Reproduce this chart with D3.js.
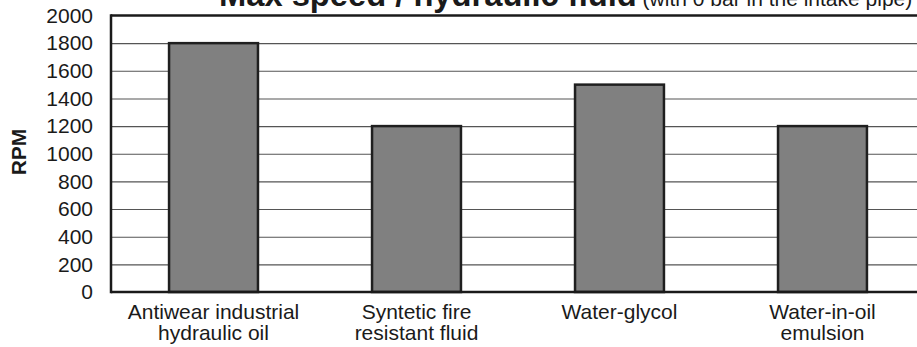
<!DOCTYPE html>
<html>
<head>
<meta charset="utf-8">
<script src="https://cdn.jsdelivr.net/npm/d3@7"></script>
<style>
  html, body { margin: 0; padding: 0; background: #fff; }
  svg { display: block; }
  text { font-family: "Liberation Sans", Arial, Helvetica, sans-serif; fill: #1a1a1a; }
</style>
</head>
<body>
<svg id="chart" width="917" height="347"></svg>
<script>
// ---- data ----
const categories = ["Antiwear industrial hydraulic oil", "Syntetic fire resistant fluid", "Water-glycol", "Water-in-oil emulsion"];
const categoryLines = [["Antiwear industrial", "hydraulic oil"], ["Syntetic fire", "resistant fluid"], ["Water-glycol"], ["Water-in-oil", "emulsion"]];
const rpmValues = [1800, 1200, 1500, 1200];
const yTicks = [0, 200, 400, 600, 800, 1000, 1200, 1400, 1600, 1800, 2000];
const titleMain = "Max speed / hydraulic fluid";
const titleSub = " (with 0 bar in the intake pipe)";
const yLabel = "RPM";

// ---- layout ----
const svg = d3.select("#chart");
const plotLeft = 111, plotRight = 925, plotTop = 15.5, plotBottom = 292;

const x = d3.scaleBand().domain(categories).range([plotLeft, plotRight])
  .paddingInner(0.562).paddingOuter(0.286);
const y = d3.scaleLinear().domain([0, 2000]).range([plotBottom, plotTop]);

// gridlines
const grid = svg.append("g").attr("transform", `translate(${plotLeft},0)`)
  .call(d3.axisLeft(y).tickValues(yTicks.filter(v => v > 0 && v < 2000)).tickSize(-(917 - plotLeft)).tickFormat(""));
grid.select(".domain").remove();
grid.selectAll(".tick line").attr("stroke", "#555").attr("stroke-width", 1.1);

// bars
svg.append("g").selectAll("rect").data(rpmValues).join("rect")
  .attr("x", (d, i) => x(categories[i]))
  .attr("y", d => y(d))
  .attr("width", x.bandwidth())
  .attr("height", d => y(0) - y(d))
  .attr("fill", "#808080")
  .attr("stroke", "#1f1f1f")
  .attr("stroke-width", 2.5);

// frame lines (left, bottom, top)
svg.append("line").attr("x1", plotLeft).attr("x2", 917).attr("y1", y(2000)).attr("y2", y(2000))
  .attr("stroke", "#1a1a1a").attr("stroke-width", 2.5);
svg.append("line").attr("x1", plotLeft).attr("x2", 917).attr("y1", y(0)).attr("y2", y(0))
  .attr("stroke", "#1a1a1a").attr("stroke-width", 2.5);
svg.append("line").attr("x1", plotLeft).attr("x2", plotLeft).attr("y1", y(2000) - 1.2).attr("y2", y(0) + 1.2)
  .attr("stroke", "#1a1a1a").attr("stroke-width", 2.5);

// y tick labels
const yAxis = svg.append("g").attr("transform", `translate(${plotLeft},0)`)
  .call(d3.axisLeft(y).tickValues(yTicks).tickSize(0).tickPadding(18).tickFormat(d3.format("d")));
yAxis.select(".domain").remove();
yAxis.selectAll("text").attr("font-size", 21).attr("fill", "#1a1a1a")
  .style("font-family", '"Liberation Sans", Arial, sans-serif');

// x category labels
const xl = svg.append("g").selectAll("text").data(categories).join("text")
  .attr("text-anchor", "middle")
  .attr("font-size", 21)
  .attr("y", 318.5);
xl.each(function (d, i) {
  const t = d3.select(this);
  const cx = x(d) + x.bandwidth() / 2;
  categoryLines[i].forEach((line, k) => {
    t.append("tspan").attr("x", cx).attr("y", 318.5 + k * 21).text(line);
  });
});

// y axis title
svg.append("text")
  .attr("transform", "translate(25.5,152) rotate(-90)")
  .attr("text-anchor", "middle")
  .attr("font-size", 21)
  .attr("font-weight", "bold")
  .text(yLabel);

// chart title (clipped at top)
const title = svg.append("text").attr("x", 219).attr("y", 5.5);
title.append("tspan").attr("font-size", 32.7).attr("font-weight", "bold").text(titleMain);
title.append("tspan").attr("font-size", 21).text(titleSub);
</script>
</body>
</html>
